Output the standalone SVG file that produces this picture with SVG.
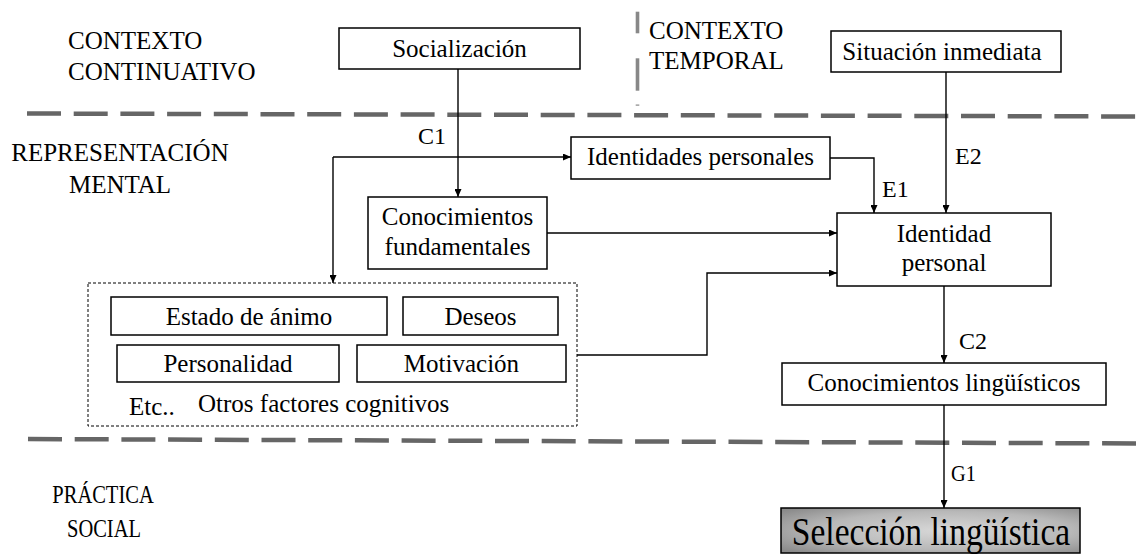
<svg xmlns="http://www.w3.org/2000/svg" width="1136" height="554" viewBox="0 0 1136 554" font-family="'Liberation Serif', 'Times New Roman', Times, serif">
<style>
text{font-family:'Liberation Serif','Times New Roman',Times,serif;font-size:25px;fill:#000}
.c{text-anchor:middle}
.lbl{font-size:24px}
.box{fill:#fff;stroke:#000;stroke-width:1.5}
.sep{stroke:#666;stroke-width:4.5;stroke-dasharray:34 12.7;fill:none}
.con{fill:none;stroke:#000;stroke-width:1.4}
</style>
<defs>
<marker id="ar" viewBox="0 0 8 7" refX="8" refY="3.5" markerWidth="8" markerHeight="7" markerUnits="userSpaceOnUse" orient="auto">
<path d="M0,0 L8,3.5 L0,7 z" fill="#000"/>
</marker>
<radialGradient id="gsel" cx="0.55" cy="0.5" r="0.7">
<stop offset="0" stop-color="#d8d8d8"/>
<stop offset="0.6" stop-color="#b8b8b8"/>
<stop offset="1" stop-color="#8a8a8a"/>
</radialGradient>
</defs>
<rect width="1136" height="554" fill="#fff"/>

<g id="separators">
<line class="sep" x1="27" y1="113.5" x2="1136" y2="116.5"/>
<line class="sep" x1="28" y1="439" x2="1136" y2="443.5"/>
<rect x="635.7" y="11.7" width="3.6" height="21.6" fill="#888"/>
<rect x="635.7" y="58.3" width="3.6" height="32.4" fill="#888"/>
<rect x="635.7" y="104.5" width="3.6" height="1.2" fill="#888"/>
</g>

<g id="section-labels">
<text x="68" y="49">CONTEXTO</text>
<text x="68" y="80">CONTINUATIVO</text>
<text x="649" y="39">CONTEXTO</text>
<text x="649" y="69">TEMPORAL</text>
<text class="c" x="120" y="161">REPRESENTACIÓN</text>
<text class="c" x="120" y="193">MENTAL</text>
<text class="c" transform="translate(103,503) scale(0.82,1)">PRÁCTICA</text>
<text class="c" transform="translate(104,537) scale(0.82,1)">SOCIAL</text>
</g>

<g id="connectors">
<path class="con" d="M458,69 V197" marker-end="url(#ar)"/>
<path class="con" d="M333,157 H571" marker-end="url(#ar)"/>
<path class="con" d="M333,157 V283" marker-end="url(#ar)"/>
<path class="con" d="M830,158 H874 V213" marker-end="url(#ar)"/>
<path class="con" d="M946,72 V213" marker-end="url(#ar)"/>
<path class="con" d="M547,233 H837" marker-end="url(#ar)"/>
<path class="con" d="M577,355 H707 V273 H837" marker-end="url(#ar)"/>
<path class="con" d="M944,286 V363" marker-end="url(#ar)"/>
<path class="con" d="M944,405 V508" marker-end="url(#ar)"/>
<text class="lbl" x="418" y="144">C1</text>
<text class="lbl" x="882" y="197">E1</text>
<text class="lbl" x="955" y="164">E2</text>
<text class="lbl" x="959" y="349">C2</text>
<text class="lbl" transform="translate(951,481) scale(0.85,1)">G1</text>
</g>

<g id="socializacion">
<rect class="box" x="339" y="28" width="241" height="41"/>
<text class="c" x="459.5" y="57">Socialización</text>
</g>

<g id="situacion-inmediata">
<rect class="box" x="831" y="31" width="230" height="41"/>
<text class="c" x="942" y="60">Situación inmediata</text>
</g>

<g id="identidades-personales">
<rect class="box" x="571" y="137" width="259" height="42"/>
<text class="c" x="700.5" y="165">Identidades personales</text>
</g>

<g id="conocimientos-fundamentales">
<rect class="box" x="368" y="197" width="179" height="72"/>
<text class="c" x="457.5" y="225">Conocimientos</text>
<text class="c" x="457.5" y="255">fundamentales</text>
</g>

<g id="identidad-personal">
<rect class="box" x="837" y="213" width="214" height="73"/>
<text class="c" x="944" y="242">Identidad</text>
<text class="c" x="944" y="271">personal</text>
</g>

<g id="otros-factores">
<rect x="88" y="283" width="489" height="143" fill="none" stroke="#000" stroke-width="1" stroke-dasharray="3 2"/>
<g id="estado-animo">
<rect class="box" x="111" y="297" width="276" height="38"/>
<text class="c" x="249" y="325">Estado de ánimo</text>
</g>
<g id="deseos">
<rect class="box" x="403" y="297" width="155" height="38"/>
<text class="c" x="480.5" y="325">Deseos</text>
</g>
<g id="personalidad">
<rect class="box" x="117" y="345" width="222" height="37"/>
<text class="c" x="228" y="372">Personalidad</text>
</g>
<g id="motivacion">
<rect class="box" x="357" y="345" width="209" height="37"/>
<text class="c" x="461.5" y="372">Motivación</text>
</g>
<text x="129" y="415">Etc..</text>
<text x="198" y="412">Otros factores cognitivos</text>
</g>

<g id="conocimientos-linguisticos">
<rect class="box" x="782" y="363" width="324" height="42"/>
<text class="c" x="944" y="391">Conocimientos lingüísticos</text>
</g>

<g id="seleccion-linguistica">
<rect x="781" y="508" width="299" height="45" fill="url(#gsel)" stroke="#000" stroke-width="1.5"/>
<text class="c" transform="translate(931,545) scale(0.86,1)" style="font-size:39px">Selección lingüística</text>
</g>
</svg>
